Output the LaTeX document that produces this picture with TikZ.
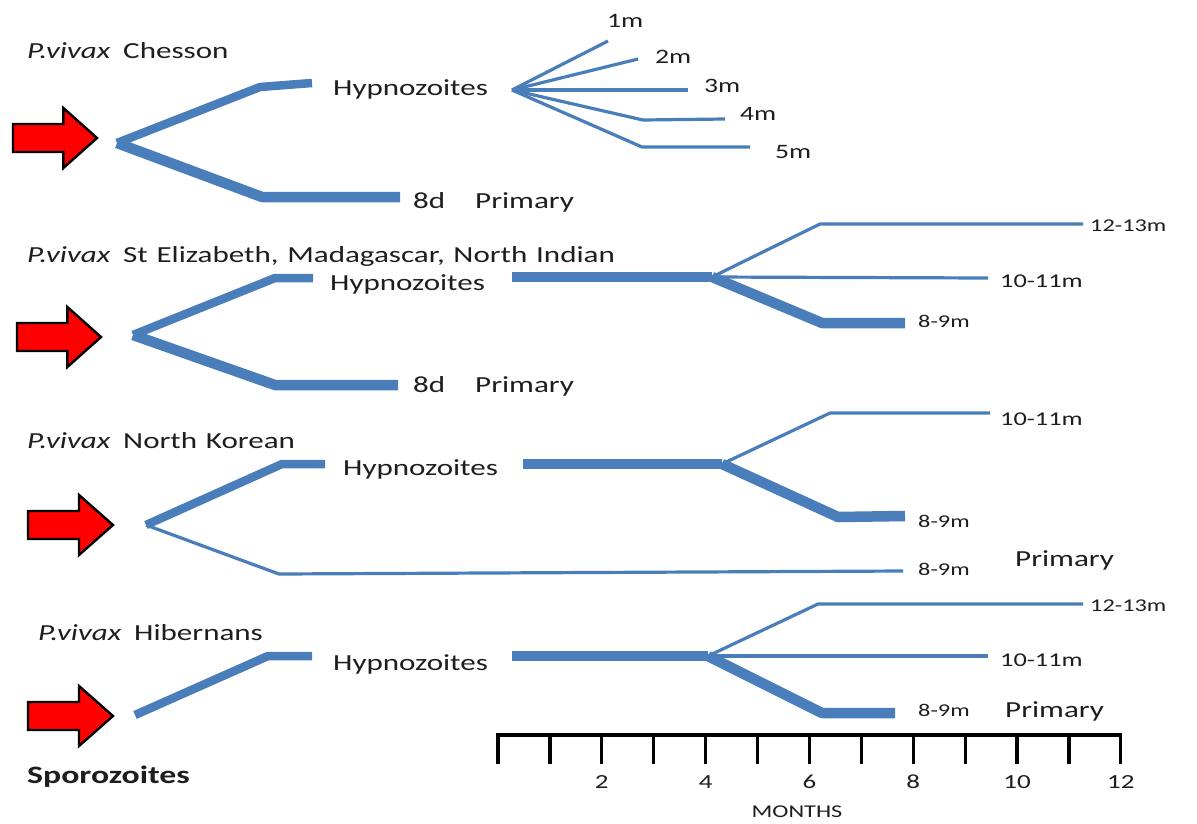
\documentclass[tikz,border=0pt]{standalone}
\usepackage{fontspec}
\setmainfont{Carlito}[FakeStretch=1.35]
\definecolor{lineblue}{RGB}{74,126,187}
\definecolor{txt}{RGB}{30,30,30}
\definecolor{arrowred}{RGB}{255,0,0}
\newcommand{\bigarrow}[4]{% name, left x, tip x, center y
  \fill[arrowred,draw=black,line width=2.4pt,line join=miter]
    (#2,#4-14) -- ({#2+0.6*(#3-#2)},#4-14) -- ({#2+0.6*(#3-#2)},#4-30) -- (#3,#4)
    -- ({#2+0.6*(#3-#2)},#4+30) -- ({#2+0.6*(#3-#2)},#4+14) -- (#2,#4+14) -- cycle;
  \coordinate (#1) at (#3,#4);}
\newcommand{\wsp}{\hspace{0.38em}}
\begin{document}
\begin{tikzpicture}[x=1pt,y=-1pt,
  thinline/.style={draw=lineblue,line width=3.2pt,line join=round},
  medline/.style={draw=lineblue,line width=8.5pt,line join=round},
  thickline/.style={draw=lineblue,line width=10.5pt,line join=round},
  big/.style={anchor=base west,inner sep=0pt,text=txt,font=\fontsize{23}{25}\selectfont},
  small/.style={anchor=base west,inner sep=0pt,text=txt,font=\fontsize{19.5}{21}\selectfont},
  tiny/.style={anchor=base west,inner sep=0pt,text=txt,font=\fontsize{18}{20}\selectfont},
  mlab/.style={anchor=base west,inner sep=0pt,text=txt,font=\fontsize{20.5}{22}\selectfont}]
\useasboundingbox[fill=white] (0,0) rectangle (1197,823);

% ---------- Panel 1: Chesson ----------
\node[big] (t1) at (27,58) {\textit{P.vivax}\hspace{0.55em}Chesson};
\bigarrow{a1}{13}{97}{138}
\coordinate (o1) at (117,143);
\coordinate (b1u) at (260,87);
\coordinate (e1u) at (312,83);
\coordinate (b1l) at (262,197);
\coordinate (e1l) at (400,197);
\draw[medline] (o1) -- (b1u) -- (e1u);
\draw[thickline] (o1) -- (b1l) -- (e1l);
\node[big] (h1) at (333,95) {Hypnozoites};
\node[big] (d1) at (413,208) {8d};
\node[big] (p1) at (475,208) {Primary};
\coordinate (f1) at (512,90);
\draw[thinline] (f1) -- (608,41);
\draw[thinline] (f1) -- (638,59);
\draw[thinline] (f1) -- (688,90);
\draw[thinline] (f1) -- (643,120) -- (725,119);
\draw[thinline] (f1) -- (642,147) -- (750,147);
\node[mlab] (m1) at (607,27) {1m};
\node[mlab] (m2) at (655,63) {2m};
\node[mlab] (m3) at (704,92) {3m};
\node[mlab] (m4) at (740,120) {4m};
\node[mlab] (m5) at (775,158) {5m};

% ---------- Panel 2: St Elizabeth ----------
\node[big] (t2) at (27,262) {\textit{P.vivax}\hspace{0.55em}St\wsp Elizabeth,\wsp Madagascar,\wsp North\wsp Indian};
\bigarrow{a2}{17}{101}{337}
\coordinate (o2) at (133,335);
\draw[medline] (o2) -- (275,278) -- (313,278);
\draw[thickline] (o2) -- (275,385) -- (398,385);
\node[big] (h2) at (330,290) {Hypnozoites};
\node[big] (d2) at (413,392) {8d};
\node[big] (p2) at (475,392) {Primary};
\coordinate (s2) at (512,277);
\coordinate (j2) at (712,277);
\draw[thickline] (s2) -- (j2);
\draw[thinline] (j2) -- (820,224) -- (1083,224);
\draw[thinline] (j2) -- (988,278);
\draw[thickline] (j2) -- (822,323) -- (905,323);
\node[tiny] (l2a) at (1090,231) {12-13m};
\node[small] (l2b) at (1000,287) {10-11m};
\node[tiny] (l2c) at (918,327) {8-9m};

% ---------- Panel 3: North Korean ----------
\node[big] (t3) at (27,448) {\textit{P.vivax}\hspace{0.55em}North\wsp Korean};
\bigarrow{a3}{28}{113}{525}
\coordinate (o3) at (146,525);
\draw[medline] (o3) -- (282,464) -- (325,464);
\draw[thinline] (o3) -- (279,574) -- (903,571);
\node[big] (h3) at (343,475) {Hypnozoites};
\coordinate (s3) at (523,464);
\coordinate (j3) at (722,464);
\draw[thickline] (s3) -- (j3);
\draw[thinline] (j3) -- (830,413) -- (990,413);
\draw[thickline] (j3) -- (838,517) -- (905,516);
\node[small] (l3a) at (1000,425) {10-11m};
\node[tiny] (l3b) at (918,527) {8-9m};
\node[tiny] (l3c) at (918,575) {8-9m};
\node[big] (p3) at (1015,566) {Primary};

% ---------- Panel 4: Hibernans ----------
\node[big] (t4) at (38,640) {\textit{P.vivax}\hspace{0.55em}Hibernans};
\bigarrow{a4}{28}{113}{716}
\draw[medline] (135,715) -- (268,656) -- (312,656);
\node[big] (h4) at (333,670) {Hypnozoites};
\coordinate (s4) at (512,656);
\coordinate (j4) at (708,656);
\draw[thickline] (s4) -- (j4);
\draw[thinline] (j4) -- (818,604) -- (1083,604);
\draw[thinline] (j4) -- (988,656);
\draw[thickline] (j4) -- (822,713) -- (895,713);
\node[tiny] (l4a) at (1090,611) {12-13m};
\node[small] (l4b) at (1000,666) {10-11m};
\node[tiny] (l4c) at (918,716) {8-9m};
\node[big] (p4) at (1005,717) {Primary};

\node[big,font=\bfseries\fontsize{25}{27}\selectfont] (sp) at (27,783) {Sporozoites};

% ---------- Axis ----------
\draw[black,line width=4pt] (496,735) -- (1122,735);
\foreach \k in {0,...,12} {
  \draw[black,line width=3.2pt] ({498+51.9*\k},735) -- ({498+51.9*\k},764);
}
\foreach \k in {2,4,...,12} {
  \node[anchor=base,inner sep=0pt,text=txt,font=\fontsize{20}{22}\selectfont] at ({498+51.9*\k},788) {\k};
}
\node[anchor=base,inner sep=0pt,text=txt,font=\fontsize{18}{20}\selectfont] (mo) at (797,817) {MONTHS};
\end{tikzpicture}
\end{document}
